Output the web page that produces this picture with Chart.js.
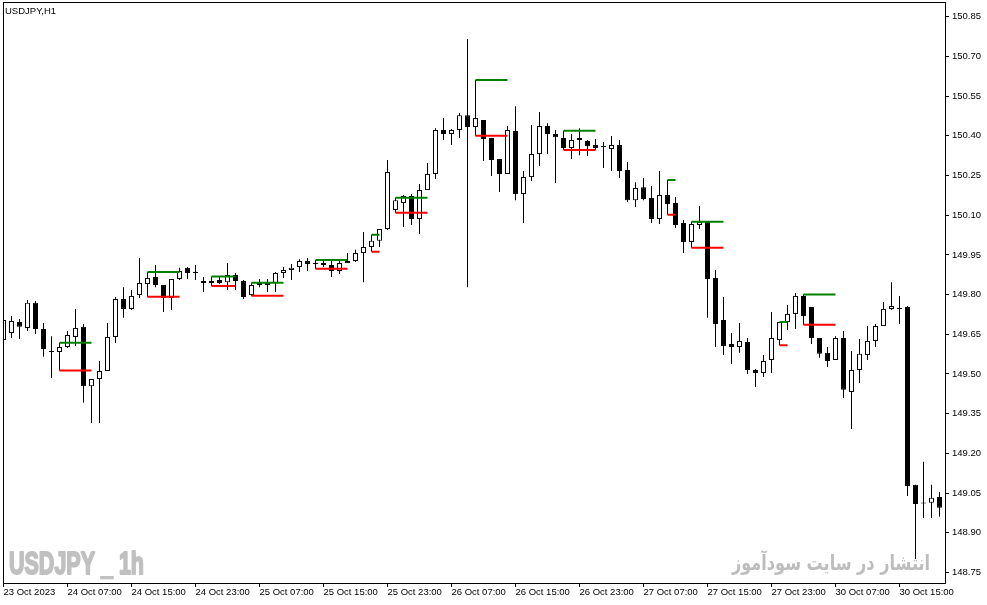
<!DOCTYPE html>
<html>
<head>
<meta charset="utf-8">
<title>USDJPY H1</title>
<script src="https://cdn.jsdelivr.net/npm/chart.js@4.4.0/dist/chart.umd.min.js"></script>
<style>
html, body { margin: 0; padding: 0; background: #fff; }
#wrap { position: relative; width: 987px; height: 605px; }
</style>
</head>
<body>
<div id="wrap"><canvas id="priceChart"></canvas></div>
<script>
const chartTitle = 'USDJPY,H1';
const watermarkLeft = 'USDJPY _ 1h';
const watermarkRight = 'انتشار در سایت سودآموز';

// one value per H1 candle, from 23 Oct 23:00
const opens = [
    149.628, 149.655, 149.696, 149.674, 149.769, 149.670, 149.587, 149.583, 149.602, 149.640,
    149.678, 149.454, 149.481, 149.511, 149.640, 149.783, 149.746, 149.798, 149.840, 149.866,
    149.836, 149.787, 149.859, 149.901, 149.886, 149.851, 149.844, 149.855, 149.847, 149.874,
    149.851, 149.798, 149.844, 149.836, 149.844, 149.882, 149.893, 149.904, 149.927, 149.920,
    149.919, 149.912, 149.889, 149.919, 149.927, 149.957, 149.980, 150.003, 150.048, 150.120,
    150.146, 150.173, 150.086, 150.195, 150.256, 150.422, 150.407, 150.422, 150.478, 150.433,
    150.460, 150.392, 150.312, 150.256, 150.418, 150.180, 150.244, 150.331, 150.437, 150.407,
    150.392, 150.354, 150.392, 150.380, 150.365, 150.361, 150.350, 150.365, 150.271, 150.157,
    150.206, 150.165, 150.086, 150.176, 150.146, 150.071, 149.999, 150.063, 150.074, 149.863,
    149.704, 149.613, 149.602, 149.621, 149.515, 149.504, 149.553, 149.628, 149.696, 149.727,
    149.795, 149.753, 149.636, 149.580, 149.553, 149.636, 149.432, 149.515, 149.572, 149.625,
    149.681, 149.746, 149.750, 149.753, 149.081, 149.014, 149.013, 149.035
];
const highs = [
    149.712, 149.719, 149.708, 149.780, 149.776, 149.693, 149.643, 149.618, 149.662, 149.746,
    149.689, 149.481, 149.549, 149.693, 149.791, 149.828, 149.817, 149.938, 149.885, 149.912,
    149.836, 149.859, 149.901, 149.904, 149.912, 149.866, 149.868, 149.866, 149.919, 149.882,
    149.855, 149.845, 149.859, 149.859, 149.885, 149.904, 149.916, 149.934, 149.938, 149.931,
    149.931, 149.927, 149.927, 149.957, 149.969, 150.037, 150.026, 150.048, 150.309, 150.166,
    150.176, 150.180, 150.218, 150.297, 150.429, 150.467, 150.426, 150.486, 150.766, 150.611,
    150.460, 150.392, 150.312, 150.437, 150.512, 150.267, 150.441, 150.490, 150.448, 150.422,
    150.419, 150.407, 150.429, 150.384, 150.388, 150.377, 150.399, 150.384, 150.301, 150.225,
    150.241, 150.210, 150.267, 150.233, 150.169, 150.082, 150.075, 150.135, 150.074, 149.893,
    149.791, 149.655, 149.693, 149.636, 149.519, 149.572, 149.734, 149.696, 149.761, 149.806,
    149.800, 149.753, 149.636, 149.602, 149.643, 149.662, 149.587, 149.632, 149.681, 149.689,
    149.772, 149.847, 149.795, 149.757, 149.081, 149.168, 149.081, 149.054
];
const lows = [
    149.620, 149.636, 149.632, 149.662, 149.651, 149.565, 149.485, 149.513, 149.598, 149.606,
    149.391, 149.315, 149.315, 149.511, 149.617, 149.712, 149.742, 149.787, 149.792, 149.828,
    149.734, 149.742, 149.855, 149.859, 149.855, 149.810, 149.832, 149.840, 149.817, 149.817,
    149.783, 149.796, 149.828, 149.810, 149.810, 149.863, 149.855, 149.885, 149.889, 149.898,
    149.904, 149.866, 149.878, 149.919, 149.923, 149.847, 149.962, 149.980, 150.044, 150.109,
    150.055, 150.063, 150.029, 150.195, 150.237, 150.384, 150.365, 150.392, 149.828, 150.400,
    150.305, 150.248, 150.188, 150.256, 150.157, 150.071, 150.229, 150.286, 150.331, 150.222,
    150.346, 150.312, 150.327, 150.324, 150.346, 150.278, 150.267, 150.241, 150.150, 150.131,
    150.157, 150.071, 150.067, 150.102, 150.052, 149.957, 149.977, 150.048, 149.712, 149.602,
    149.572, 149.538, 149.580, 149.500, 149.451, 149.489, 149.504, 149.609, 149.666, 149.670,
    149.686, 149.613, 149.561, 149.526, 149.553, 149.409, 149.292, 149.466, 149.553, 149.602,
    149.681, 149.742, 149.689, 149.039, 148.801, 148.956, 148.956, 148.960
];
const closes = [
    149.704, 149.700, 149.678, 149.769, 149.670, 149.594, 149.583, 149.602, 149.647, 149.674,
    149.454, 149.481, 149.511, 149.640, 149.783, 149.746, 149.795, 149.844, 149.863, 149.836,
    149.787, 149.859, 149.889, 149.882, 149.882, 149.844, 149.851, 149.844, 149.874, 149.851,
    149.791, 149.836, 149.836, 149.844, 149.882, 149.893, 149.901, 149.927, 149.916, 149.916,
    149.912, 149.889, 149.919, 149.927, 149.957, 149.980, 150.003, 150.048, 150.263, 150.157,
    150.173, 150.086, 150.195, 150.256, 150.422, 150.407, 150.422, 150.478, 150.433, 150.467,
    150.388, 150.309, 150.256, 150.422, 150.180, 150.244, 150.331, 150.437, 150.407, 150.395,
    150.354, 150.384, 150.384, 150.361, 150.354, 150.358, 150.365, 150.267, 150.157, 150.203,
    150.161, 150.086, 150.176, 150.142, 150.063, 149.999, 150.067, 150.074, 149.859, 149.689,
    149.606, 149.602, 149.625, 149.515, 149.504, 149.549, 149.636, 149.696, 149.727, 149.795,
    149.719, 149.636, 149.576, 149.549, 149.636, 149.440, 149.515, 149.576, 149.625, 149.681,
    149.746, 149.757, 149.746, 149.077, 149.009, 149.010, 149.032, 148.994
];

// high/low levels of marked candles (candle index where they start and end)
const levelFrom = [7, 18, 26, 31, 39, 46, 49, 59, 70, 83, 86, 97, 100];
const levelTo = [11, 22, 29, 35, 43, 47, 53, 63, 74, 84, 90, 98, 104];
const levelHigh = [149.618, 149.885, 149.868, 149.845, 149.931, 150.026, 150.166, 150.611, 150.419, 150.233, 150.075, 149.696, 149.800];
const levelLow = [149.513, 149.792, 149.832, 149.796, 149.898, 149.962, 150.109, 150.400, 150.346, 150.102, 149.977, 149.609, 149.686];

const xTickIndex = [0, 8, 16, 24, 32, 40, 48, 56, 64, 72, 80, 88, 96, 104, 112];
const xTickLabels = [
    '23 Oct 2023', '24 Oct 07:00', '24 Oct 15:00', '24 Oct 23:00', '25 Oct 07:00',
    '25 Oct 15:00', '25 Oct 23:00', '26 Oct 07:00', '26 Oct 15:00', '26 Oct 23:00',
    '27 Oct 07:00', '27 Oct 15:00', '27 Oct 23:00', '30 Oct 07:00', '30 Oct 15:00'
];
const yTickValues = [150.85, 150.70, 150.55, 150.40, 150.25, 150.10, 149.95, 149.80, 149.65, 149.50, 149.35, 149.20, 149.05, 148.90, 148.75];

let priceChart;

document.addEventListener('DOMContentLoaded', () => {
    initializeChart();
});

function buildBodies() {
    return opens.map((o, i) => ({ x: i, y: [o, closes[i]] }));
}

function buildWicks() {
    return lows.map((l, i) => ({ x: i, y: [l, highs[i]] }));
}

function buildLevel(values) {
    const points = [];
    levelFrom.forEach((from, k) => {
        points.push({ x: from, y: values[k] });
        points.push({ x: levelTo[k], y: values[k] });
        points.push({ x: levelTo[k] + 0.1, y: null });
    });
    return points;
}

function drawScaledText(ctx, text, font, x, y, width, align, rtl, stroke) {
    ctx.save();
    ctx.font = font;
    ctx.direction = rtl ? 'rtl' : 'ltr';
    ctx.textAlign = align;
    ctx.textBaseline = 'alphabetic';
    const w = ctx.measureText(text).width;
    ctx.translate(x, y);
    ctx.scale(width / w, 1);
    ctx.fillText(text, 0, 0);
    if (stroke) {
        ctx.lineWidth = stroke;
        ctx.lineJoin = 'round';
        ctx.strokeText(text, 0, 0);
    }
    ctx.restore();
}

const decorPlugin = {
    id: 'decor',
    beforeDatasetsDraw(chart) {
        const ctx = chart.ctx;
        ctx.save();
        ctx.fillStyle = '#c0c0c0';
        ctx.strokeStyle = '#c0c0c0';
        drawScaledText(ctx, watermarkLeft, 'bold 32px "Liberation Sans Narrow", "Liberation Sans", sans-serif', 9, 574, 135, 'left', false, 2);
        ctx.fillStyle = '#bdbdbd';
        drawScaledText(ctx, watermarkRight, 'bold 21px "DejaVu Sans", sans-serif', 930, 570, 198, 'right', true, 0);
        ctx.restore();
    },
    afterDraw(chart) {
        const ctx = chart.ctx;
        const area = chart.chartArea;
        ctx.save();
        ctx.strokeStyle = '#000';
        ctx.lineWidth = 1;
        ctx.strokeRect(area.left + 0.5, area.top - 0.5, area.right - area.left, area.bottom - area.top + 1);
        ctx.fillStyle = '#000';
        ctx.font = '9.5px "Liberation Sans", Arial, sans-serif';
        ctx.textBaseline = 'alphabetic';
        ctx.fillText(chartTitle, 5, 14);
        ctx.restore();
    }
};

function initializeChart() {
    Chart.defaults.font.family = '"Liberation Sans", Arial, sans-serif';
    Chart.defaults.font.size = 9.5;
    Chart.defaults.color = '#000';

    const ctx = document.getElementById('priceChart').getContext('2d');
    priceChart = new Chart(ctx, {
        type: 'bar',
        data: {
            datasets: [{
                type: 'line',
                data: buildLevel(levelHigh),
                borderColor: '#008000',
                borderWidth: 2,
                pointRadius: 0,
                spanGaps: false,
                order: 0
            }, {
                type: 'line',
                data: buildLevel(levelLow),
                borderColor: '#ff0000',
                borderWidth: 2,
                pointRadius: 0,
                spanGaps: false,
                order: 0
            }, {
                data: buildBodies(),
                backgroundColor: opens.map((o, i) => closes[i] > o ? '#ffffff' : '#000000'),
                borderColor: '#000000',
                borderWidth: 1,
                borderSkipped: false,
                inflateAmount: 0,
                barThickness: 5,
                maxBarThickness: 5,
                minBarLength: 1,
                grouped: false,
                order: 1
            }, {
                data: buildWicks(),
                backgroundColor: '#000000',
                borderWidth: 0,
                inflateAmount: 0,
                barThickness: 1,
                maxBarThickness: 1,
                minBarLength: 1,
                grouped: false,
                order: 2
            }]
        },
        options: {
            responsive: true,
            maintainAspectRatio: false,
            animation: false,
            events: [],
            layout: { padding: { left: 3, top: 3, right: 0, bottom: 0 } },
            plugins: {
                legend: { display: false },
                tooltip: { enabled: false }
            },
            scales: {
                x: {
                    type: 'linear',
                    position: 'bottom',
                    min: -0.0625,
                    max: 117.6875,
                    offset: false,
                    grid: { display: true, offset: false, drawOnChartArea: false, tickLength: 4, color: '#000' },
                    border: { display: true, color: '#000' },
                    ticks: {
                        autoSkip: false,
                        maxRotation: 0,
                        align: 'start',
                        padding: 0,
                        callback: (value) => xTickLabels[xTickIndex.indexOf(value)]
                    },
                    afterBuildTicks: (axis) => {
                        axis.ticks = xTickIndex.map(v => ({ value: v }));
                    },
                    afterFit: (axis) => {
                        axis.height = 22;
                        axis.paddingLeft = 0;
                        axis.paddingRight = 0;
                    }
                },
                y: {
                    type: 'linear',
                    position: 'right',
                    min: 148.710,
                    max: 150.902,
                    grid: { display: true, drawOnChartArea: false, tickLength: 4, color: '#000' },
                    border: { display: true, color: '#000' },
                    ticks: {
                        padding: 3,
                        callback: (value) => value.toFixed(2)
                    },
                    afterBuildTicks: (axis) => {
                        axis.ticks = yTickValues.map(v => ({ value: v }));
                    },
                    afterFit: (axis) => {
                        axis.width = 42;
                        axis.paddingTop = 0;
                        axis.paddingBottom = 0;
                    }
                }
            }
        },
        plugins: [decorPlugin]
    });
}
</script>
</body>
</html>
